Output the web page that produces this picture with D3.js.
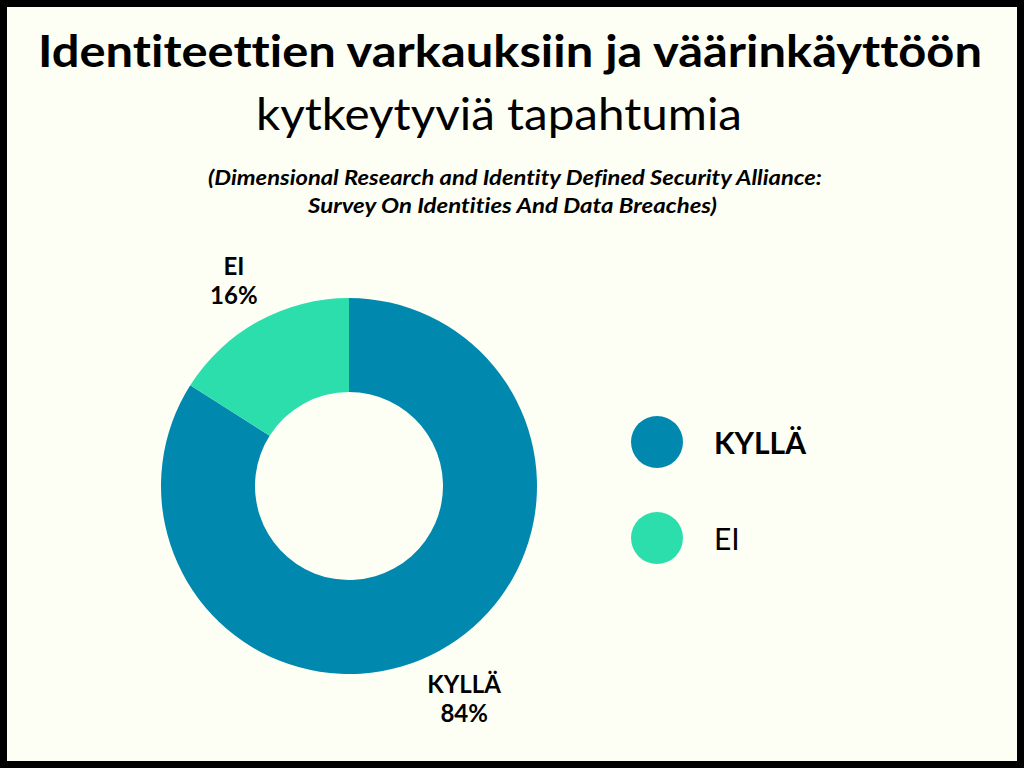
<!DOCTYPE html>
<html>
<head>
<meta charset="utf-8">
<script src="https://cdn.jsdelivr.net/npm/d3@7"></script>
<style>
  html, body { margin: 0; padding: 0; background: #fdfef4; }
  svg { display: block; }
  text { font-family: Lato, "Noto Sans", sans-serif; fill: #000; font-variant-ligatures: none; }
</style>
</head>
<body>
<script>
const categories = ["KYLLÄ", "EI"];
const values = [84, 16];
const colors = ["#0088ae", "#2cdeac"];

const titleLines = ["Identiteettien varkauksiin ja väärinkäyttöön", "kytkeytyviä tapahtumia"];
const subtitleLines = ["(Dimensional Research and Identity Defined Security Alliance:",
                       "Survey On Identities And Data Breaches)"];

var w = 1024;
var h = 768;

var svg = d3.select("body")
    .append("svg")
    .attr("width", w)
    .attr("height", h);

// background and thick border
svg.append("rect")
    .attr("x", 3.5).attr("y", 3.5)
    .attr("width", w - 7).attr("height", h - 7)
    .attr("fill", "#fdfef4")
    .attr("stroke", "#000")
    .attr("stroke-width", 7);

// title lines: [x, y, width, weight]
var titleSpec = [[510, 67, 944, "bold"], [499, 130, 486, "normal"]];
svg.selectAll(".title")
    .data(titleLines)
    .enter()
    .append("text")
    .attr("class", "title")
    .attr("x", function(d, i) { return titleSpec[i][0]; })
    .attr("y", function(d, i) { return titleSpec[i][1]; })
    .attr("text-anchor", "middle")
    .attr("textLength", function(d, i) { return titleSpec[i][2]; })
    .attr("lengthAdjust", "spacingAndGlyphs")
    .style("font-size", "44px")
    .style("font-weight", function(d, i) { return titleSpec[i][3]; })
    .text(function(d) { return d; });

var subSpec = [[515, 185, 614], [512.5, 213, 409]];
svg.selectAll(".sub")
    .data(subtitleLines)
    .enter()
    .append("text")
    .attr("class", "sub")
    .attr("x", function(d, i) { return subSpec[i][0]; })
    .attr("y", function(d, i) { return subSpec[i][1]; })
    .attr("text-anchor", "middle")
    .attr("textLength", function(d, i) { return subSpec[i][2]; })
    .attr("lengthAdjust", "spacingAndGlyphs")
    .style("font-size", "20px")
    .style("font-weight", "bold")
    .style("font-style", "italic")
    .text(function(d) { return d; });

var color = d3.scaleOrdinal().domain(categories).range(colors);

var pie = d3.pie().sort(null).value(function(d) { return d.value; });
var data = categories.map(function(c, i) { return {name: c, value: values[i]}; });
var arcs = pie(data);

var outerR = 188, innerR = 94;
var arc = d3.arc().innerRadius(innerR).outerRadius(outerR);
var labelArc = d3.arc().innerRadius(239).outerRadius(239);

var g = svg.append("g").attr("transform", "translate(349,486)");

g.selectAll("path")
    .data(arcs)
    .enter()
    .append("path")
    .attr("d", arc)
    .attr("fill", function(d) { return color(d.data.name); });

var labels = g.selectAll(".lbl")
    .data(arcs)
    .enter()
    .append("text")
    .attr("class", "lbl")
    .attr("text-anchor", "middle")
    .attr("transform", function(d) { return "translate(" + labelArc.centroid(d) + ")"; })
    .style("font-size", "24px")
    .style("font-weight", "bold");

labels.append("tspan")
    .attr("x", 0).attr("y", -2)
    .text(function(d) { return d.data.name; });
labels.append("tspan")
    .attr("x", 0).attr("y", 27)
    .text(function(d) { return d.data.value + "%"; });

// legend
var legend = svg.selectAll(".leg")
    .data(categories)
    .enter()
    .append("g")
    .attr("class", "leg")
    .attr("transform", function(d, i) { return "translate(657," + (442 + i * 96) + ")"; });

legend.append("circle")
    .attr("r", 26)
    .attr("fill", function(d) { return color(d); });

legend.append("text")
    .attr("x", 57).attr("y", 12)
    .style("font-size", "30px")
    .style("font-weight", function(d, i) { return i === 0 ? "bold" : "normal"; })
    .text(function(d) { return d; });
</script>
</body>
</html>
